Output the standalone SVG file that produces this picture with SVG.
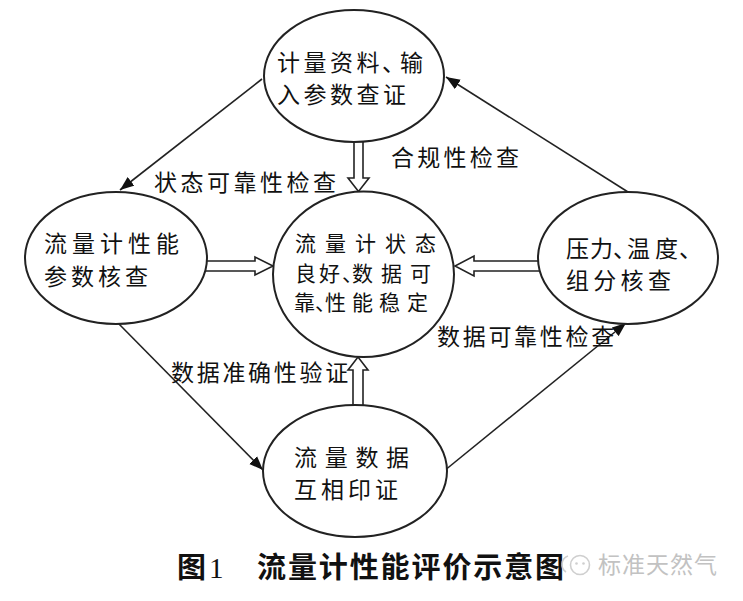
<svg xmlns="http://www.w3.org/2000/svg" width="743" height="601" viewBox="0 0 743 601">
<defs>
<marker id="ah" markerUnits="userSpaceOnUse" markerWidth="16" markerHeight="12" refX="14" refY="6" orient="auto">
<path d="M0,0.5 L14,6 L0,11.5 Z" fill="#111"/>
</marker>
<style>
.node{fill:#fff;stroke:#222;stroke-width:2}
.t{font-family:"Noto Sans CJK SC","Noto Sans CJK JP",sans-serif;font-size:23px;fill:#111}
.tc{font-size:21px}
.ln{fill:none;stroke:#222;stroke-width:1.6}
.hol{fill:#fff;stroke:#222;stroke-width:1.6;stroke-linejoin:miter}
.cap{font-family:"Noto Sans CJK SC",sans-serif;font-size:29px;font-weight:bold;fill:#111}
.wm{font-family:"Noto Sans CJK SC",sans-serif;font-size:23px;fill:#c2c2c2}
</style>
</defs>
<rect width="743" height="601" fill="#fff"/>
<g id="connectors">
<line class="ln" x1="262" y1="79" x2="120" y2="190" marker-end="url(#ah)"/>
<line class="ln" x1="628" y1="192" x2="446" y2="77" marker-end="url(#ah)"/>
<line class="ln" x1="118" y1="323" x2="263" y2="470" marker-end="url(#ah)"/>
<line class="ln" x1="444" y1="471" x2="626" y2="323" marker-end="url(#ah)"/>
<path class="hol" d="M354,135 V178 H348 L358.5,191.5 L369,178 H363 V135"/>
<path class="hol" d="M353,412 V370 H348 L358,357 L368,370 H363 V412"/>
<path class="hol" d="M200,261 H255 V257 L273,266 L255,275 V271 H200"/>
<path class="hol" d="M546,261 H474 V256 L455,266 L474,276 V271 H546"/>
<text class="t" x="154" y="191" letter-spacing="3.5">状态可靠性检查</text>
<text class="t" x="391" y="166" letter-spacing="3.25">合规性检查</text>
<text class="t" x="171" y="381" letter-spacing="2.7">数据准确性验证</text>
<text class="t" x="437" y="345" letter-spacing="2.7">数据可靠性检查</text>
</g>
<g id="node-top">
<ellipse class="node" cx="354" cy="76" rx="90" ry="66"/>
<text class="t"><tspan x="277 303.5 330 356.5 382 400" y="71">计量资料、输</tspan><tspan x="277 303.5 330 356.5 383" y="103">入参数查证</tspan></text>
</g>
<g id="node-left">
<ellipse class="node" cx="116" cy="258" rx="91" ry="66"/>
<text class="t"><tspan x="44 72 100 128 156" y="252">流量计性能</tspan><tspan x="44 71 98 125" y="285">参数核查</tspan></text>
</g>
<g id="node-center">
<ellipse class="node" cx="363.5" cy="274.2" rx="90.5" ry="82.8"/>
<text class="t tc"><tspan x="295 325 355 385 415" y="251">流量计状态</tspan><tspan x="295 319 342 352 381 410" y="280.5">良好、数据可</tspan><tspan x="294 315 325 352 379 407" y="310">靠、性能稳定</tspan></text>
</g>
<g id="node-right">
<ellipse class="node" cx="628" cy="258" rx="90" ry="66"/>
<text class="t"><tspan x="566 590 613 627 655 679" y="257">压力、温度、</tspan><tspan x="566 593.3 620.6 647.9" y="289">组分核查</tspan></text>
</g>
<g id="node-bottom">
<ellipse class="node" cx="355" cy="471" rx="92" ry="66"/>
<text class="t"><tspan x="294 324.7 355.4 386.1" y="466">流量数据</tspan><tspan x="294 321 348 375" y="498">互相印证</tspan></text>
</g>
<g id="caption">
<text class="cap" x="177" y="578">图</text>
<text x="209" y="578" style="font-family:'Liberation Serif',serif;font-size:29px;fill:#111">1</text>
<text class="cap" x="257" y="578" letter-spacing="1.9">流量计性能评价示意图</text>
</g>
<g id="watermark">
<path d="M568,556 A9,9 0 0 0 566,572" fill="none" stroke="#cfcfcf" stroke-width="1.6"/>
<circle cx="580" cy="565" r="9.5" fill="none" stroke="#cfcfcf" stroke-width="1.6"/>
<circle cx="576.5" cy="563.5" r="1.3" fill="#cfcfcf"/>
<circle cx="583.5" cy="563.5" r="1.3" fill="#cfcfcf"/>
<text class="wm" x="598" y="573" letter-spacing="1">标准天然气</text>
</g>
</svg>
